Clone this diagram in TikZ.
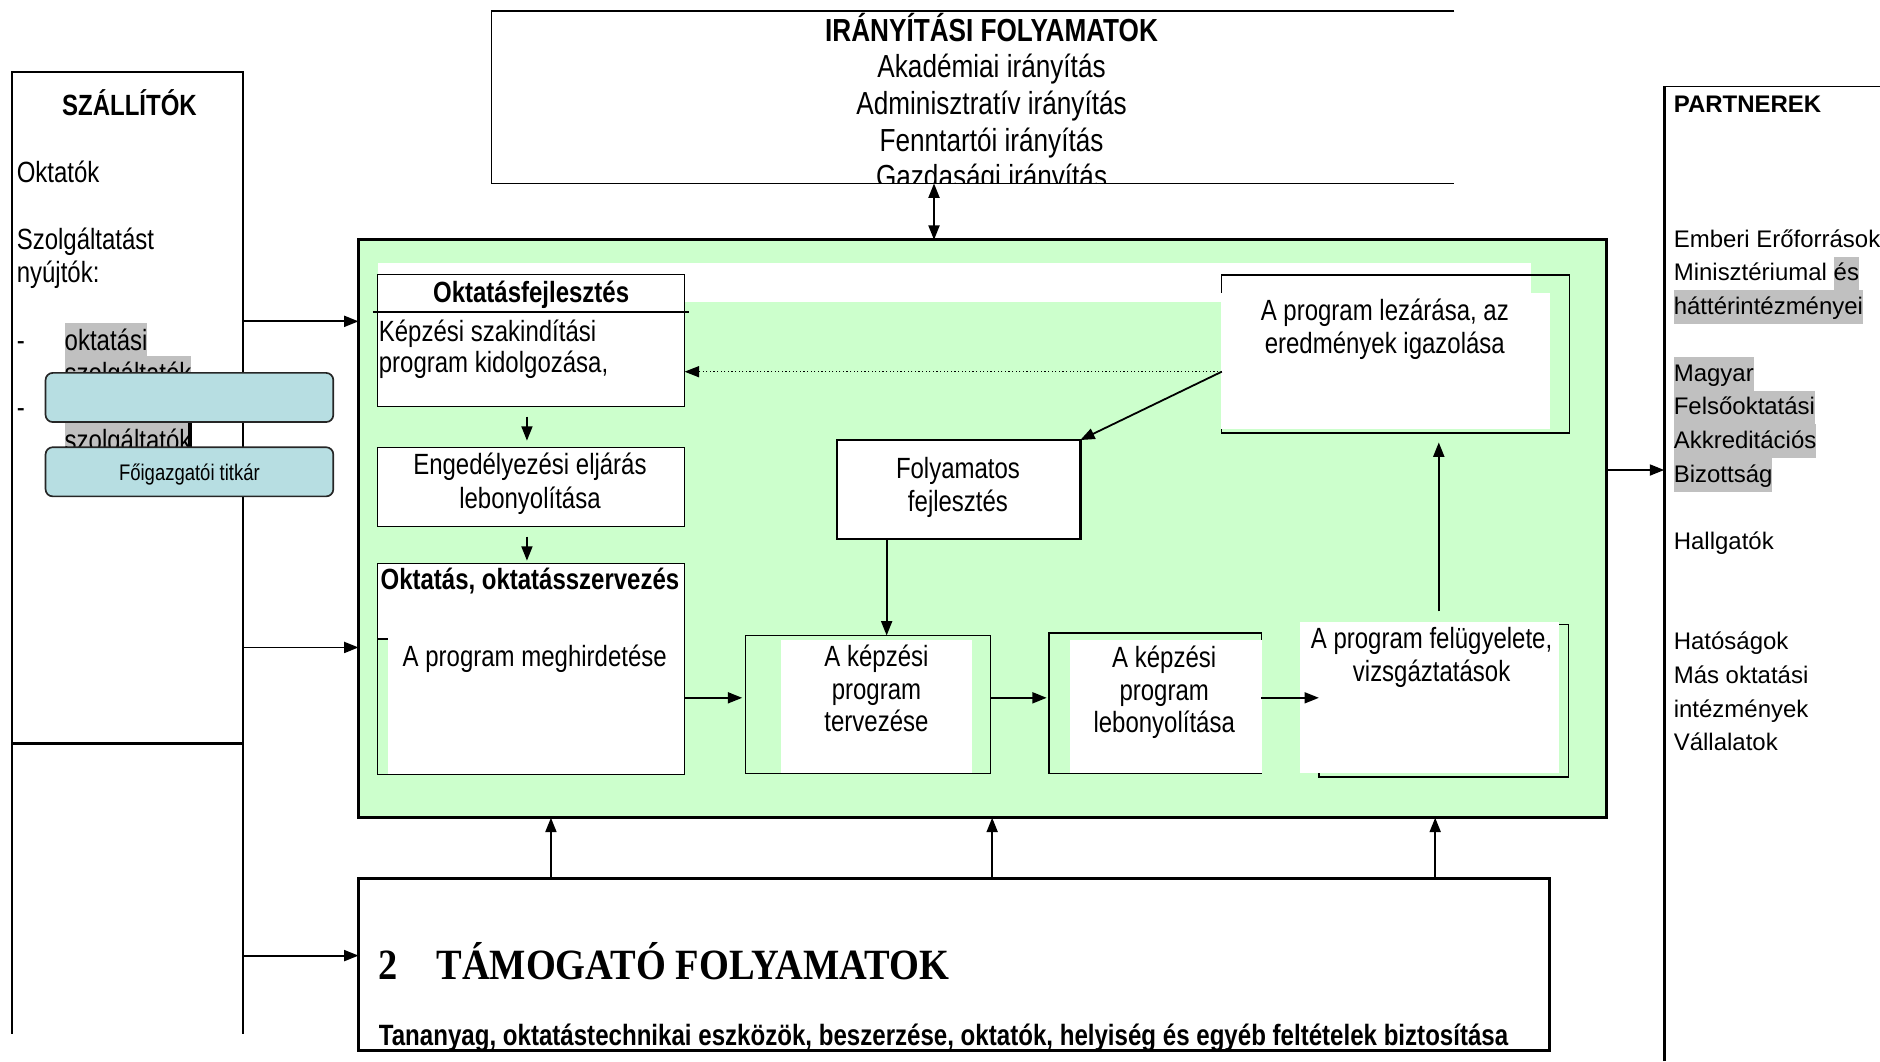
\documentclass[tikz,border=0pt]{standalone}
\usepackage{fontspec}
\setmainfont{Liberation Sans}
\newfontfamily\nar[FakeStretch=0.82]{Liberation Sans}
\newfontfamily\sernar[FakeStretch=0.89]{Liberation Serif}
\usetikzlibrary{arrows.meta,fit}
\definecolor{mgreen}{HTML}{CCFFCC}
\definecolor{mblue}{RGB}{183,222,226}
\definecolor{hlgray}{HTML}{C0C0C0}
\newcommand\fA{\nar\fontsize{13.3}{15}\selectfont}
\newcommand\fB{\nar\fontsize{12.2}{14}\selectfont}
\newcommand\fP{\fontsize{10}{14}\selectfont}
\newcommand\fS{\nar\fontsize{9.4}{11}\selectfont}
\newcommand\fT{\sernar\bfseries\fontsize{18}{20}\selectfont}
\newcommand\fU{\nar\bfseries\fontsize{12.25}{14}\selectfont}
\newcommand\hlL[1]{{\setlength\fboxsep{0pt}\colorbox{hlgray}{\rule[-3pt]{0pt}{14.5pt}#1}}}
\newcommand\hlP[1]{{\setlength\fboxsep{0pt}\colorbox{hlgray}{\rule[-4pt]{0pt}{14pt}#1}}}
\tikzset{
  lbl/.style={inner sep=0pt, outer sep=0pt, anchor=base},
  lblw/.style={inner sep=0pt, outer sep=0pt, anchor=base west},
  area/.style={inner sep=0pt, outer sep=0pt},
  arr/.style={line width=0.75pt, -{Triangle[length=6pt,width=4.6pt]}},
  darr/.style={line width=0.75pt, {Triangle[length=6pt,width=4.6pt]}-{Triangle[length=6pt,width=4.6pt]}},
  bluebox/.style={draw=black!85, line width=0.7pt, fill=mblue, rounded corners=3pt},
}
\begin{document}
\begin{tikzpicture}[x=0.5pt,y=-0.5pt]
\useasboundingbox (0,0) rectangle (1568,885);

% helper coordinates
\coordinate (xa) at (779,0);
\coordinate (ya1) at (0,268);
\coordinate (ya2) at (0,540);
\coordinate (ya3) at (0,797);
\coordinate (yp) at (0,392);
\coordinate (xb1) at (459.5,0);
\coordinate (xb2) at (827.5,0);
\coordinate (xb3) at (1197,0);
\coordinate (xc) at (439.5,0);
\coordinate (yd) at (0,310);
\coordinate (xf) at (739.5,0);
\coordinate (ye) at (0,582);
\coordinate (xg) at (1200,0);

% ---------- top: IRANYITASI FOLYAMATOK ----------
\node[area, fit={(410,9) (1213,153)}] (irany) {};
\draw[line width=0.7pt] (irany.north east) -- (irany.north west) -- (irany.south west) -- (irany.south east);
\begin{scope}
\clip (irany.north west) rectangle (irany.south east);
\node[lbl, font=\fA\bfseries] (ir0) at (827,34.5) {IRÁNYÍTÁSI FOLYAMATOK};
\node[lbl, font=\fA] (ir1) at (827,65) {Akadémiai irányítás};
\node[lbl, font=\fA] (ir2) at (827,95.5) {Adminisztratív irányítás};
\node[lbl, font=\fA] (ir3) at (827,126) {Fenntartói irányítás};
\node[lbl, font=\fA] (ir4) at (827,156.5) {Gazdasági irányítás};
\end{scope}

% ---------- SZALLITOK ----------
\node[area, fit={(10,60) (203,862)}] (szall) {};
\draw[line width=0.9pt] (szall.south west) -- (szall.north west) -- (szall.north east) -- (szall.south east);
\draw[line width=1.2pt] (10,620) -- (203,620);
\node[lbl, font=\fB\bfseries] (sz) at (108,96) {SZÁLLÍTÓK};
\node[lblw, font=\fB] (s1) at (14,152) {Oktatók};
\node[lblw, font=\fB] (s2) at (14,208) {Szolgáltatást};
\node[lblw, font=\fB] (s3) at (14,236) {nyújtók:};
\node[lblw, font=\fB] (s4) at (14,292) {-};
\node[lblw, font=\fB] (s5) at (54,292) {\hlL{oktatási}};
\node[lblw, font=\fB] (s6) at (54,320) {\hlL{szolgáltatók}};
\node[lblw, font=\fB] (s7) at (14,348) {-};
\node[lblw, font=\fB] (s8) at (54,376) {\hlL{szolgáltatók}};
\fill[black] (157,352) rectangle (160.5,373);
\node[area, bluebox, fit={(38,311) (278,352)}] (r1) {};
\node[area, bluebox, fit={(38,373) (278,414)}] (r2) {};
\node[lbl, font=\fS] (r2t) at (158,400.5) {Főigazgatói titkár};

% ---------- PARTNEREK ----------
\node[area, fit={(1388,72) (1568,885)}] (partn) {};
\draw[line width=1.3pt] (partn.south west) -- (partn.north west);
\draw[line width=0.6pt] (partn.north west) -- (partn.north east);
\node[lblw, font=\fP\bfseries] (p0) at (1396,94) {PARTNEREK};
\node[lblw, font=\fP] (p1) at (1396,206) {Emberi Erőforrások};
\node[lblw, font=\fP] (p2) at (1396,234) {Minisztériumal \hlP{és}};
\node[lblw, font=\fP] (p3) at (1396,262) {\hlP{háttérintézményei}};
\node[lblw, font=\fP] (p4) at (1396,318) {\hlP{Magyar}};
\node[lblw, font=\fP] (p5) at (1396,346) {\hlP{Felsőoktatási}};
\node[lblw, font=\fP] (p6) at (1396,374) {\hlP{Akkreditációs}};
\node[lblw, font=\fP] (p7) at (1396,402) {\hlP{Bizottság}};
\node[lblw, font=\fP] (p8) at (1396,458) {Hallgatók};
\node[lblw, font=\fP] (p9) at (1396,542) {Hatóságok};
\node[lblw, font=\fP] (p10) at (1396,570) {Más oktatási};
\node[lblw, font=\fP] (p11) at (1396,598) {intézmények};
\node[lblw, font=\fP] (p12) at (1396,626) {Vállalatok};

% ---------- main green box ----------
\node[area, fit={(299,200) (1340,682)}, draw, line width=1.4pt, fill=mgreen] (main) {};
\fill[white] (315,219.5) rectangle (1276.7,252);

\node[area, fit={(315,229) (571,339)}, draw, fill=white, line width=0.5pt] (fejl) {};
\draw[line width=0.9pt] (311,260) -- (575,260);
\node[lbl, font=\fB\bfseries] (f0) at (443,252) {Oktatásfejlesztés};
\node[lblw, font=\fB] (f1) at (316,285) {Képzési szakindítási};
\node[lblw, font=\fB] (f2) at (316,311) {program kidolgozása,};

\node[area, fit={(315,373.5) (571,439)}, draw, fill=white, line width=0.5pt] (enged) {};
\node[lbl, font=\fB] (e1) at (442,396) {Engedélyezési eljárás};
\node[lbl, font=\fB] (e2) at (442,424) {lebonyolítása};

\node[area, fit={(315,470) (571,646)}, fill=mgreen] (okt) {};
\fill[white] (315,470) rectangle (571,533);
\fill[white] (324,533) rectangle (571,646);
\draw[line width=0.5pt] (okt.north west) rectangle (okt.south east);
\draw[line width=0.5pt] (315,533) -- (324,533);
\node[lbl, font=\fB\bfseries] (o0) at (442,491.5) {Oktatás, oktatásszervezés};
\node[lbl, font=\fB] (o1) at (446,556) {A program meghirdetése};

\node[area, fit={(622,530) (826,645)}, draw, line width=0.6pt] (terv) {};
\fill[white] (651,534) rectangle (811,644.4);
\node[lbl, font=\fB] (tv1) at (731,556) {A képzési};
\node[lbl, font=\fB] (tv2) at (731,583) {program};
\node[lbl, font=\fB] (tv3) at (731,610) {tervezése};

\node[area, fit={(875,528) (1052,645)}, draw, line width=0.6pt] (lebon) {};
\fill[white] (892,534) rectangle (1052.5,644.4);
\node[lbl, font=\fB] (lb1) at (971,557) {A képzési};
\node[lbl, font=\fB] (lb2) at (971,584) {program};
\node[lbl, font=\fB] (lb3) at (971,611) {lebonyolítása};

\node[area, fit={(1100,521) (1308,648)}, draw, line width=0.6pt] (felug) {};
\fill[white] (1084,518.5) rectangle (1300,645);
\node[lbl, font=\fB] (fg1) at (1194,541) {A program felügyelete,};
\node[lbl, font=\fB] (fg2) at (1194,568.5) {vizsgáztatások};

\node[area, fit={(1019,229.4) (1309,361)}, draw, line width=0.6pt] (lezar) {};
\fill[white] (1018.5,244.6) rectangle (1293,357.8);
\node[lbl, font=\fB] (lz1) at (1155,267) {A program lezárása, az};
\node[lbl, font=\fB] (lz2) at (1155,295) {eredmények igazolása};

\node[area, fit={(698,367) (901,449.5)}, draw, fill=white, line width=1.1pt] (folyam) {};
\node[lbl, font=\fB] (fy1) at (799,399) {Folyamatos};
\node[lbl, font=\fB] (fy2) at (799,427) {fejlesztés};

% ---------- support box ----------
\node[area, fit={(299,733) (1292,876)}, draw, line width=1.2pt, fill=white] (tamog) {};
\begin{scope}
\clip (tamog.north west) rectangle (tamog.south east);
\node[lblw, font=\fT] (t2) at (316,817) {2};
\node[lblw, font=\fT] (t3) at (364,817) {TÁMOGATÓ FOLYAMATOK};
\node[lblw, font=\fU] (t4) at (316,872) {Tananyag, oktatástechnikai eszközök, beszerzése, oktatók, helyiség és egyéb feltételek biztosítása};
\end{scope}

% ---------- connectors ----------
\draw[darr] (irany.south -| xa) -- (main.north -| xa);
\draw[arr] (szall.east |- ya1) -- (main.west |- ya1);
\draw[arr] (szall.east |- ya2) -- (main.west |- ya2);
\draw[arr] (szall.east |- ya3) -- (tamog.west |- ya3);
\draw[arr] (main.east |- yp) -- (partn.west |- yp);
\foreach \c in {xb1,xb2,xb3} \draw[arr] (tamog.north -| \c) -- (main.south -| \c);
\draw[arr, shorten <=4.25pt, shorten >=3pt] (fejl.south -| xc) -- (enged.north -| xc);
\draw[arr, shorten <=4.3pt, shorten >=1.2pt] (enged.south -| xc) -- (okt.north -| xc);
\draw[arr, line width=0.5pt, densely dotted] (lezar.west |- yd) -- (fejl.east |- yd);
\draw[arr] (lezar.west |- yd) -- (folyam.north east);
\draw[arr] (folyam.south -| xf) -- (terv.north -| xf);
\draw[arr, shorten >=1.5pt] (okt.east |- ye) -- (terv.west |- ye);
\draw[arr, shorten >=1pt] (terv.east |- ye) -- (lebon.west |- ye);
\draw[arr] (lebon.east |- ye) -- (felug.west |- ye);
\draw[arr, shorten <=5.5pt, shorten >=4pt] (felug.north -| xg) -- (lezar.south -| xg);
\end{tikzpicture}
\end{document}
